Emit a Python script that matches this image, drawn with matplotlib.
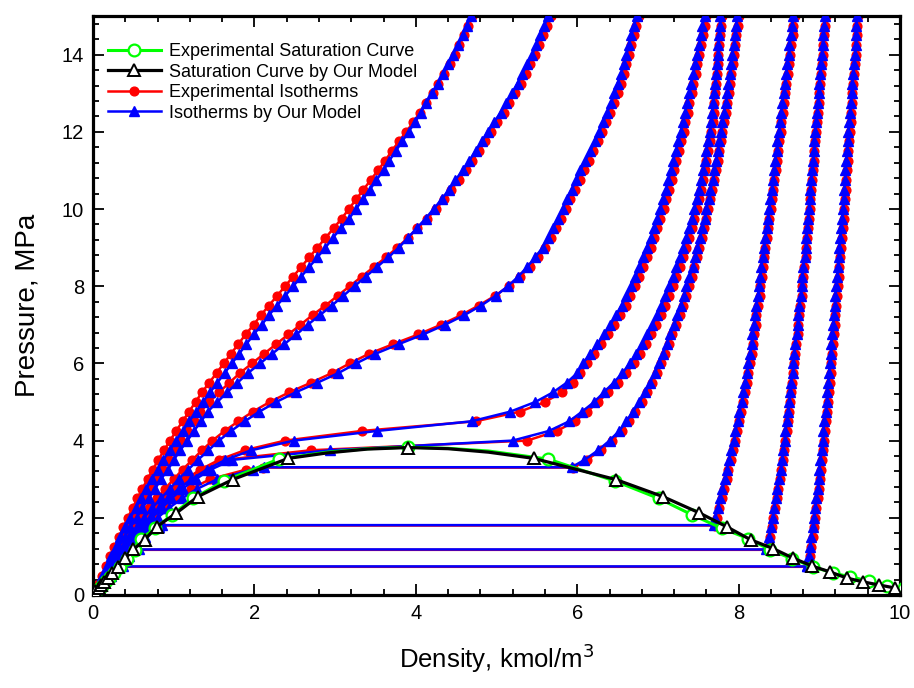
import matplotlib.pyplot as plt
from matplotlib.ticker import MultipleLocator

plt.rcParams['font.family'] = ['Liberation Sans', 'DejaVu Sans']

# pressure levels of the isotherm measurements, MPa
P_GRID = [0.25, 0.5, 0.75, 1.0, 1.25, 1.5, 1.75, 2.0, 2.25, 2.5,
          2.75, 3.0, 3.25, 3.5, 3.75, 4.0, 4.25, 4.5, 4.75, 5.0,
          5.25, 5.5, 5.75, 6.0, 6.25, 6.5, 6.75, 7.0, 7.25, 7.5,
          7.75, 8.0, 8.25, 8.5, 8.75, 9.0, 9.25, 9.5, 9.75, 10.0,
          10.25, 10.5, 10.75, 11.0, 11.25, 11.5, 11.75, 12.0, 12.25, 12.5,
          12.75, 13.0, 13.25, 13.5, 13.75, 14.0, 14.25, 14.5, 14.75, 15.0]

# supercritical isotherms (hottest first), density in kmol/m3 at P_GRID
SUPER_EXP = [
    [0.05, 0.105, 0.16, 0.21, 0.265, 0.32, 0.375, 0.43, 0.49, 0.55,
     0.61, 0.675, 0.74, 0.81, 0.88, 0.955, 1.03, 1.11, 1.19, 1.27,
     1.35, 1.44, 1.53, 1.62, 1.71, 1.80, 1.89, 1.99, 2.08, 2.18,
     2.28, 2.38, 2.48, 2.58, 2.68, 2.78, 2.88, 2.98, 3.08, 3.17,
     3.26, 3.35, 3.44, 3.53, 3.62, 3.70, 3.79, 3.88, 3.97, 4.05,
     4.13, 4.21, 4.28, 4.35, 4.42, 4.48, 4.54, 4.60, 4.65, 4.70],
    [0.06, 0.12, 0.18, 0.24, 0.30, 0.37, 0.44, 0.51, 0.58, 0.65,
     0.72, 0.79, 0.87, 0.94, 1.01, 1.09, 1.17, 1.25, 1.33, 1.44,
     1.56, 1.69, 1.82, 1.97, 2.12, 2.27, 2.42, 2.57, 2.72, 2.88,
     3.03, 3.18, 3.33, 3.48, 3.63, 3.77, 3.90, 4.02, 4.14, 4.25,
     4.35, 4.44, 4.53, 4.62, 4.70, 4.78, 4.86, 4.93, 5.01, 5.09,
     5.16, 5.23, 5.30, 5.36, 5.42, 5.48, 5.53, 5.58, 5.63, 5.68],
    [0.06, 0.13, 0.20, 0.27, 0.35, 0.43, 0.51, 0.60, 0.69, 0.79,
     0.89, 1.00, 1.11, 1.23, 1.35, 1.48, 1.63, 1.80, 1.98, 2.19,
     2.43, 2.70, 2.96, 3.18, 3.42, 3.72, 4.03, 4.31, 4.56, 4.78,
     4.98, 5.15, 5.29, 5.41, 5.51, 5.60, 5.67, 5.74, 5.80, 5.86,
     5.91, 5.97, 6.03, 6.08, 6.14, 6.20, 6.26, 6.31, 6.36, 6.41,
     6.46, 6.50, 6.54, 6.58, 6.61, 6.64, 6.67, 6.70, 6.73, 6.76],
    [0.07, 0.145, 0.22, 0.30, 0.38, 0.47, 0.57, 0.67, 0.77, 0.88,
     1.00, 1.15, 1.33, 1.56, 1.88, 2.38, 3.33, 4.74, 5.29, 5.60,
     5.81, 5.95, 6.04, 6.12, 6.21, 6.30, 6.38, 6.46, 6.53, 6.60,
     6.66, 6.72, 6.77, 6.82, 6.87, 6.91, 6.95, 6.99, 7.03, 7.07,
     7.10, 7.14, 7.17, 7.20, 7.23, 7.26, 7.29, 7.32, 7.34, 7.37,
     7.39, 7.42, 7.44, 7.47, 7.49, 7.51, 7.53, 7.56, 7.58, 7.60],
    [0.07, 0.15, 0.23, 0.31, 0.40, 0.49, 0.59, 0.69, 0.80, 0.92,
     1.05, 1.20, 1.38, 1.62, 2.70, 5.38, 5.75, 5.97, 6.12, 6.26,
     6.38, 6.50, 6.61, 6.70, 6.78, 6.85, 6.92, 6.98, 7.04, 7.09,
     7.14, 7.19, 7.23, 7.27, 7.31, 7.35, 7.38, 7.42, 7.45, 7.48,
     7.51, 7.53, 7.56, 7.58, 7.60, 7.62, 7.64, 7.66, 7.68, 7.69,
     7.70, 7.71, 7.72, 7.73, 7.74, 7.75, 7.76, 7.77, 7.78, 7.79],
]

SUPER_MODEL = [
    [0.06, 0.115, 0.17, 0.22, 0.285, 0.34, 0.40, 0.46, 0.53, 0.59,
     0.66, 0.725, 0.80, 0.87, 0.95, 1.025, 1.11, 1.19, 1.28, 1.36,
     1.45, 1.54, 1.63, 1.72, 1.81, 1.90, 1.99, 2.09, 2.18, 2.28,
     2.38, 2.48, 2.58, 2.68, 2.78, 2.88, 2.97, 3.07, 3.17, 3.26,
     3.34, 3.43, 3.51, 3.60, 3.67, 3.75, 3.83, 3.91, 3.99, 4.06,
     4.13, 4.20, 4.27, 4.34, 4.40, 4.46, 4.52, 4.58, 4.63, 4.68],
    [0.07, 0.13, 0.19, 0.25, 0.32, 0.39, 0.46, 0.54, 0.61, 0.69,
     0.77, 0.84, 0.93, 1.00, 1.08, 1.17, 1.25, 1.34, 1.42, 1.54,
     1.66, 1.79, 1.92, 2.07, 2.22, 2.37, 2.52, 2.66, 2.81, 2.96,
     3.10, 3.24, 3.38, 3.52, 3.66, 3.79, 3.90, 4.01, 4.12, 4.22,
     4.32, 4.41, 4.49, 4.58, 4.66, 4.74, 4.82, 4.89, 4.97, 5.05,
     5.12, 5.19, 5.26, 5.32, 5.38, 5.44, 5.49, 5.54, 5.59, 5.64],
    [0.07, 0.14, 0.21, 0.29, 0.37, 0.45, 0.54, 0.63, 0.73, 0.84,
     0.95, 1.06, 1.18, 1.30, 1.43, 1.56, 1.71, 1.88, 2.06, 2.27,
     2.51, 2.78, 3.04, 3.26, 3.50, 3.79, 4.09, 4.36, 4.60, 4.81,
     4.99, 5.14, 5.27, 5.38, 5.48, 5.57, 5.64, 5.70, 5.76, 5.82,
     5.87, 5.93, 5.99, 6.04, 6.10, 6.16, 6.22, 6.27, 6.32, 6.37,
     6.42, 6.46, 6.50, 6.54, 6.58, 6.61, 6.64, 6.67, 6.70, 6.74],
    [0.075, 0.155, 0.235, 0.32, 0.40, 0.50, 0.60, 0.71, 0.82, 0.93,
     1.06, 1.22, 1.41, 1.64, 1.96, 2.49, 3.52, 4.69, 5.17, 5.48,
     5.70, 5.87, 6.00, 6.07, 6.16, 6.25, 6.33, 6.41, 6.48, 6.55,
     6.61, 6.67, 6.72, 6.77, 6.82, 6.86, 6.91, 6.95, 6.99, 7.03,
     7.06, 7.10, 7.13, 7.16, 7.19, 7.22, 7.25, 7.28, 7.31, 7.34,
     7.36, 7.39, 7.41, 7.44, 7.46, 7.48, 7.51, 7.53, 7.55, 7.58],
    [0.075, 0.16, 0.24, 0.33, 0.42, 0.52, 0.62, 0.73, 0.85, 0.97,
     1.11, 1.27, 1.46, 1.72, 2.94, 5.20, 5.65, 5.90, 6.06, 6.21,
     6.33, 6.45, 6.56, 6.65, 6.73, 6.80, 6.87, 6.93, 6.99, 7.04,
     7.09, 7.14, 7.19, 7.23, 7.27, 7.31, 7.35, 7.38, 7.42, 7.45,
     7.48, 7.51, 7.53, 7.56, 7.58, 7.60, 7.62, 7.64, 7.66, 7.67,
     7.68, 7.69, 7.71, 7.72, 7.73, 7.74, 7.75, 7.76, 7.77, 7.77],
]

# subcritical isotherms (coldest first): vapour pressure and the two saturated densities
SUB_PSAT_EXP = [0.73, 1.17, 1.80, 3.30]
SUB_PSAT_MODEL = [0.74, 1.18, 1.81, 3.31]
SUB_VSAT_EXP = [0.36, 0.55, 0.84, 2.10]
SUB_LSAT_EXP = [8.86, 8.35, 7.71, 5.95]
SUB_VSAT_MODEL = [0.37, 0.57, 0.86, 2.12]
SUB_LSAT_MODEL = [8.85, 8.34, 7.69, 5.93]

# vapour branches at the lowest P_GRID levels
SUB_VAP_EXP = [
    [0.10, 0.21],
    [0.095, 0.195, 0.30, 0.42],
    [0.09, 0.18, 0.28, 0.38, 0.49, 0.62, 0.78],
    [0.08, 0.16, 0.245, 0.335, 0.43, 0.53, 0.64, 0.76, 0.89, 1.04, 1.22, 1.45, 1.90],
]
SUB_VAP_MODEL = [
    [0.105, 0.22],
    [0.10, 0.20, 0.31, 0.44],
    [0.095, 0.19, 0.29, 0.40, 0.52, 0.65, 0.82],
    [0.085, 0.17, 0.255, 0.35, 0.45, 0.56, 0.67, 0.80, 0.94, 1.10, 1.29, 1.54, 1.98],
]

# liquid branches at the highest P_GRID levels (ending at 15 MPa)
SUB_LIQ_EXP = [
    [8.86, 8.88, 8.90, 8.92, 8.935, 8.95, 8.965, 8.98, 8.995, 9.01,
     9.02, 9.03, 9.045, 9.06, 9.07, 9.08, 9.095, 9.11, 9.12, 9.13,
     9.14, 9.15, 9.16, 9.17, 9.18, 9.19, 9.20, 9.21, 9.22, 9.23,
     9.24, 9.25, 9.26, 9.27, 9.28, 9.29, 9.30, 9.31, 9.32, 9.325,
     9.33, 9.34, 9.35, 9.36, 9.37, 9.38, 9.39, 9.395, 9.40, 9.41,
     9.42, 9.43, 9.44, 9.45, 9.46, 9.465, 9.47, 9.48],
    [8.36, 8.39, 8.41, 8.43, 8.45, 8.47, 8.49, 8.51, 8.53, 8.55,
     8.565, 8.58, 8.595, 8.61, 8.625, 8.64, 8.65, 8.665, 8.68, 8.69,
     8.70, 8.715, 8.73, 8.74, 8.75, 8.765, 8.78, 8.79, 8.80, 8.815,
     8.83, 8.84, 8.85, 8.86, 8.87, 8.88, 8.89, 8.90, 8.91, 8.92,
     8.93, 8.94, 8.95, 8.96, 8.97, 8.98, 8.99, 9.00, 9.01, 9.02,
     9.03, 9.04, 9.05, 9.06, 9.07, 9.08],
    [7.73, 7.76, 7.79, 7.82, 7.85, 7.87, 7.90, 7.93, 7.96, 7.98,
     8.01, 8.03, 8.06, 8.08, 8.10, 8.12, 8.14, 8.16, 8.18, 8.19,
     8.21, 8.22, 8.24, 8.26, 8.27, 8.29, 8.30, 8.32, 8.33, 8.35,
     8.37, 8.38, 8.40, 8.41, 8.43, 8.44, 8.46, 8.47, 8.49, 8.50,
     8.52, 8.53, 8.55, 8.56, 8.58, 8.59, 8.61, 8.62, 8.64, 8.65,
     8.67, 8.68, 8.70],
    [6.12, 6.29, 6.43, 6.55, 6.64, 6.72, 6.80, 6.87, 6.93, 6.99,
     7.04, 7.09, 7.14, 7.18, 7.23, 7.27, 7.31, 7.35, 7.38, 7.42,
     7.45, 7.48, 7.51, 7.54, 7.57, 7.60, 7.62, 7.65, 7.67, 7.70,
     7.72, 7.74, 7.76, 7.78, 7.80, 7.82, 7.84, 7.86, 7.88, 7.89,
     7.91, 7.93, 7.94, 7.96, 7.97, 7.99, 8.00],
]
SUB_LIQ_MODEL = [
    [8.85, 8.87, 8.89, 8.90, 8.92, 8.93, 8.95, 8.96, 8.98, 8.99,
     9.00, 9.01, 9.03, 9.04, 9.05, 9.06, 9.08, 9.09, 9.10, 9.11,
     9.12, 9.13, 9.14, 9.15, 9.16, 9.17, 9.18, 9.19, 9.20, 9.21,
     9.22, 9.23, 9.24, 9.25, 9.26, 9.27, 9.28, 9.29, 9.30, 9.31,
     9.32, 9.32, 9.33, 9.34, 9.35, 9.36, 9.37, 9.38, 9.39, 9.40,
     9.41, 9.42, 9.43, 9.44, 9.45, 9.45, 9.46, 9.47],
    [8.35, 8.38, 8.40, 8.42, 8.44, 8.46, 8.48, 8.50, 8.52, 8.54,
     8.55, 8.57, 8.58, 8.60, 8.61, 8.63, 8.64, 8.65, 8.67, 8.68,
     8.69, 8.70, 8.72, 8.73, 8.74, 8.75, 8.77, 8.78, 8.79, 8.80,
     8.82, 8.83, 8.84, 8.85, 8.86, 8.87, 8.88, 8.89, 8.90, 8.91,
     8.92, 8.93, 8.94, 8.95, 8.96, 8.97, 8.98, 8.99, 9.00, 9.01,
     9.02, 9.03, 9.04, 9.05, 9.06, 9.07],
    [7.71, 7.74, 7.77, 7.80, 7.83, 7.85, 7.88, 7.91, 7.94, 7.96,
     7.99, 8.01, 8.04, 8.06, 8.08, 8.10, 8.12, 8.14, 8.16, 8.17,
     8.19, 8.20, 8.22, 8.24, 8.25, 8.27, 8.28, 8.30, 8.31, 8.33,
     8.35, 8.36, 8.38, 8.39, 8.41, 8.42, 8.44, 8.45, 8.47, 8.48,
     8.50, 8.51, 8.53, 8.54, 8.56, 8.57, 8.59, 8.60, 8.62, 8.63,
     8.65, 8.66, 8.68],
    [6.09, 6.26, 6.40, 6.52, 6.61, 6.69, 6.77, 6.84, 6.90, 6.96,
     7.01, 7.06, 7.11, 7.15, 7.20, 7.24, 7.28, 7.32, 7.35, 7.39,
     7.43, 7.46, 7.49, 7.52, 7.55, 7.58, 7.60, 7.63, 7.65, 7.68,
     7.70, 7.72, 7.74, 7.76, 7.78, 7.80, 7.82, 7.84, 7.86, 7.87,
     7.89, 7.91, 7.92, 7.94, 7.95, 7.97, 7.98],
]

# saturation curve, vapour side up to the critical point then liquid side down
SAT_EXP_RHO = [0.0, 0.08, 0.11, 0.16, 0.21, 0.26, 0.33, 0.42, 0.52, 0.60,
               0.77, 0.98, 1.24, 1.62, 2.30, 3.90, 5.64, 6.47, 7.01, 7.42,
               7.79, 8.12, 8.39, 8.66, 8.92, 9.17, 9.38, 9.62, 9.84, 10.05]
SAT_EXP_P = [0.0, 0.17, 0.24, 0.36, 0.47, 0.57, 0.73, 0.94, 1.17, 1.46,
             1.73, 2.08, 2.50, 2.95, 3.52, 3.83, 3.52, 2.95, 2.50, 2.08,
             1.73, 1.46, 1.17, 0.94, 0.73, 0.57, 0.47, 0.36, 0.24, 0.17]
SAT_EXP_LINE_RHO = SAT_EXP_RHO[:15] + [2.90, 3.40, 3.90, 4.40, 4.90] + SAT_EXP_RHO[16:]
SAT_EXP_LINE_P = SAT_EXP_P[:15] + [3.70, 3.79, 3.83, 3.80, 3.73] + SAT_EXP_P[16:]

SAT_MODEL_RHO = [0.0, 0.03, 0.07, 0.10, 0.14, 0.19, 0.24, 0.31, 0.40, 0.50,
                 0.64, 0.79, 1.03, 1.30, 1.73, 2.42, 3.90, 5.46, 6.48, 7.06,
                 7.51, 7.85, 8.15, 8.43, 8.67, 8.91, 9.13, 9.34, 9.54, 9.74, 9.94]
SAT_MODEL_P = [0.0, 0.10, 0.18, 0.25, 0.34, 0.45, 0.58, 0.73, 0.95, 1.18,
               1.43, 1.77, 2.12, 2.55, 2.99, 3.54, 3.82, 3.54, 2.99, 2.55,
               2.13, 1.77, 1.43, 1.20, 0.96, 0.75, 0.60, 0.44, 0.34, 0.26, 0.18]
SAT_MODEL_LINE_RHO = SAT_MODEL_RHO[:16] + [2.90, 3.40, 3.90, 4.40, 4.90] + SAT_MODEL_RHO[17:]
SAT_MODEL_LINE_P = SAT_MODEL_P[:16] + [3.68, 3.78, 3.82, 3.79, 3.70] + SAT_MODEL_P[17:]


def subcritical_curve(psat, vsat, lsat, vap, liq):
    n = len(P_GRID)
    p = P_GRID[:len(vap)] + [psat, psat] + P_GRID[n - len(liq):]
    rho = vap + [vsat, lsat] + liq
    return rho, p


fig = plt.figure(figsize=(9.14, 6.88), dpi=100)
ax = fig.add_axes([0.1018, 0.1352, 0.8829, 0.8415])

red_style = dict(color='#ff0000', lw=1.8, marker='o', ms=6.3, mec='#ff0000', mfc='#ff0000')
blue_style = dict(color='#0000ff', lw=1.8, marker='^', ms=6.8, mec='#0000ff', mfc='#0000ff')

for i in range(4):
    rho, p = subcritical_curve(SUB_PSAT_EXP[i], SUB_VSAT_EXP[i], SUB_LSAT_EXP[i],
                               SUB_VAP_EXP[i], SUB_LIQ_EXP[i])
    ax.plot(rho, p, zorder=2, **red_style)
for rho in SUPER_EXP:
    ax.plot(rho, P_GRID, zorder=2, **red_style)

for i in range(4):
    rho, p = subcritical_curve(SUB_PSAT_MODEL[i], SUB_VSAT_MODEL[i], SUB_LSAT_MODEL[i],
                               SUB_VAP_MODEL[i], SUB_LIQ_MODEL[i])
    ax.plot(rho, p, zorder=3, **blue_style)
for rho in SUPER_MODEL:
    ax.plot(rho, P_GRID, zorder=3, **blue_style)

# saturation dome
ax.plot(SAT_EXP_LINE_RHO, SAT_EXP_LINE_P, color='#00ff00', lw=2.2, zorder=4)
ax.plot(SAT_EXP_RHO, SAT_EXP_P, ls='none', marker='o', ms=8.5, mfc='white',
        mec='#00ff00', mew=1.6, zorder=4)
ax.plot(SAT_MODEL_LINE_RHO, SAT_MODEL_LINE_P, color='black', lw=2.3, zorder=5)
ax.plot(SAT_MODEL_RHO, SAT_MODEL_P, ls='none', marker='^', ms=9, mfc='white',
        mec='black', mew=1.4, zorder=5)

# legend entries
h1, = ax.plot([], [], color='#00ff00', lw=2.2, marker='o', ms=8.5, mfc='white', mec='#00ff00', mew=1.6)
h2, = ax.plot([], [], color='black', lw=2.3, marker='^', ms=9, mfc='white', mec='black', mew=1.4)
h3, = ax.plot([], [], **red_style)
h4, = ax.plot([], [], **blue_style)
ax.legend([h1, h2, h3, h4],
          ['Experimental Saturation Curve', 'Saturation Curve by Our Model',
           'Experimental Isotherms', 'Isotherms by Our Model'],
          loc='upper left', bbox_to_anchor=(0.0099, 0.966), frameon=False,
          fontsize=13, handlelength=2.9, handletextpad=0.45, labelspacing=0.2,
          numpoints=1, borderaxespad=0.0)

ax.set_xlim(0, 10)
ax.set_ylim(0, 15)
ax.xaxis.set_major_locator(MultipleLocator(2))
ax.xaxis.set_minor_locator(MultipleLocator(0.4))
ax.yaxis.set_major_locator(MultipleLocator(2))
ax.yaxis.set_minor_locator(MultipleLocator(0.4))
ax.tick_params(which='both', direction='in', top=True, right=True, labelsize=14.5, width=1.3)
ax.tick_params(which='major', length=8, pad=6.5)
ax.tick_params(which='minor', length=4)
for s in ax.spines.values():
    s.set_linewidth(2.3)

ax.set_xlabel('Density, kmol/m$^3$', fontsize=18.5, labelpad=13)
ax.set_ylabel('Pressure, MPa', fontsize=20, labelpad=15)

fig.savefig('out.png', dpi=100)
